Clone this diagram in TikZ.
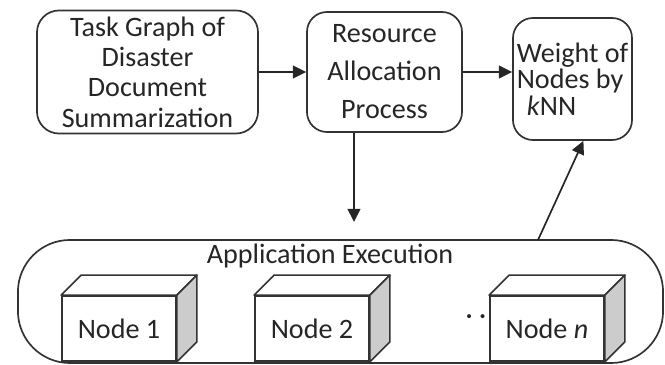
\documentclass[tikz,border=0pt]{standalone}
\usepackage{fontspec}
\setmainfont{Carlito}
\usetikzlibrary{arrows.meta, positioning}

\begin{document}
\begin{tikzpicture}[
    x=0.025cm, y=-0.025cm,
    every node/.style={font=\fontsize{20}{21.5}\selectfont, text=black!85},
    st/.style={rounded corners=0.5cm, draw=black!80, line width=1.2pt, fill=white, align=center},
    cube/.style={draw=black!80, line width=1.2pt, fill=white, minimum width=2.85cm, minimum height=1.625cm},
    face/.style={draw=black!80, line width=1.2pt, line join=round, fill=white},
    a/.style={-{Triangle[length=0.33cm, width=0.32cm]}, line width=1.2pt, draw=black!85}
]
\useasboundingbox (0,0) rectangle (665,365);
\node[st, minimum width=5.525cm, minimum height=3.075cm, rounded corners=0.55cm] (task) at (147.5,72) {Task Graph of\\Disaster\\Document\\Summarization};
\node[st, minimum width=3.875cm, minimum height=3cm, font=\fontsize{20}{27}\selectfont] (alloc) at (384.5,72) {Resource\\Allocation\\Process};
\node[st, minimum width=2.975cm, minimum height=3.05cm, align=left, inner sep=1pt, font=\fontsize{20}{19}\selectfont] (weight) at (572.5,79) {Weight of\\Nodes by\\\hspace{0.25cm}\textit{k}NN};
\node[st, minimum width=16.125cm, minimum height=3.075cm, rounded corners=1.3cm] (exec) at (340.5,301.5) {};
\node (exectitle) at (330,256) {Application Execution};
\node[cube] (n1) at (119,328.5) {Node 1};
\node[cube] (n2) at (312,328.5) {Node 2};
\node[cube] (nn) at (547,328.5) {Node \textit{n}};
\node (dots) at (476,320) {· ·};
\draw[face] (n1.north west) -- ++(20,-20) -- ([shift={(20,-20)}]n1.north east) -- (n1.north east) -- cycle;
\draw[face, fill=gray!40] (n1.north east) -- ++(20,-20) -- ([shift={(20,-20)}]n1.south east) -- (n1.south east) -- cycle;
\draw[face] (n2.north west) -- ++(20,-20) -- ([shift={(20,-20)}]n2.north east) -- (n2.north east) -- cycle;
\draw[face, fill=gray!40] (n2.north east) -- ++(20,-20) -- ([shift={(20,-20)}]n2.south east) -- (n2.south east) -- cycle;
\draw[face] (nn.north west) -- ++(20,-20) -- ([shift={(20,-20)}]nn.north east) -- (nn.north east) -- cycle;
\draw[face, fill=gray!40] (nn.north east) -- ++(20,-20) -- ([shift={(20,-20)}]nn.south east) -- (nn.south east) -- cycle;
\coordinate (drop) at (354,222);
\coordinate (rise) at (538,240);
\draw[a] (task) -- (alloc);
\draw[a] (alloc.east) -- (alloc.east -| weight.west);
\draw[a] (alloc.south -| drop) -- (drop);
\draw[a] (rise) -- (weight.-80);
\end{tikzpicture}
\end{document}
